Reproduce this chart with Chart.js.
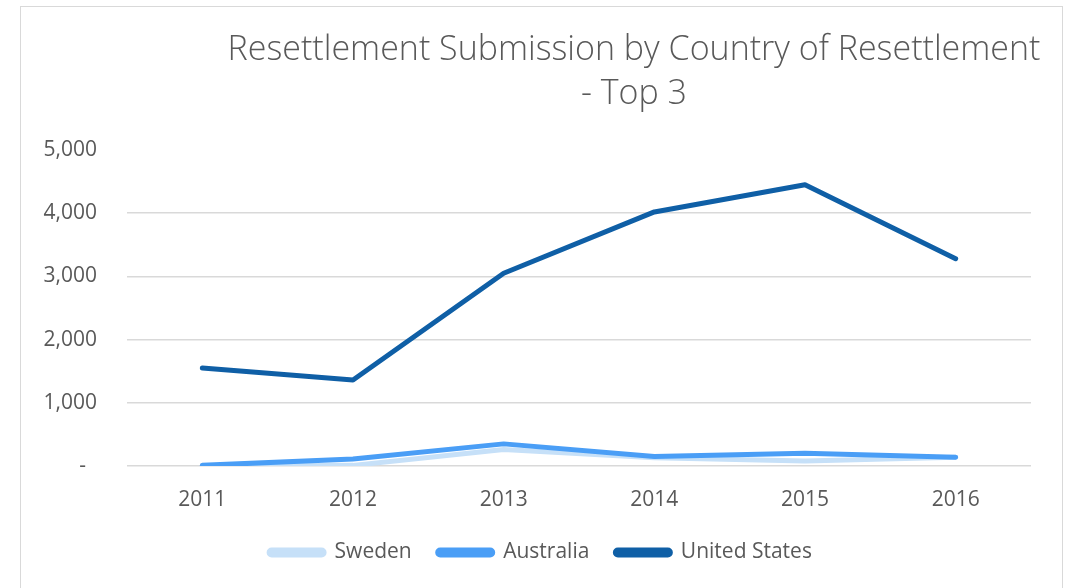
<!DOCTYPE html>
<html>
<head>
<meta charset="utf-8">
<script src="https://cdn.jsdelivr.net/npm/chart.js@4.4.0/dist/chart.umd.min.js"></script>
<style>
  html, body { margin: 0; padding: 0; background: #fff; }
  #wrap { position: relative; width: 1081px; height: 588px; overflow: hidden; }
  #frame { position: absolute; left: 20px; top: 6px; width: 1041px; height: 640px; border: 1px solid #d9d9d9; }
  #chartBox { position: absolute; left: 0; top: 0; width: 1081px; height: 588px; }
</style>
</head>
<body>
<div id="wrap">
  <div id="frame"></div>
  <div id="chartBox"><canvas id="resettlementChart"></canvas></div>
</div>
<script>
var years = ['2011', '2012', '2013', '2014', '2015', '2016'];
var unitedStates = [1550, 1360, 3050, 4020, 4450, 3280];
var australia = [10, 110, 350, 150, 200, 140];
var sweden = [0, 10, 260, 130, 80, 140];
var yTicks = [0, 1000, 2000, 3000, 4000, 5000];
var titleLines = ['Resettlement Submission by Country of Resettlement', '- Top 3'];

var fontFamily = "'Open Sans', 'Noto Sans', sans-serif";
var textColor = '#595959';

// title drawn off-centre like the original workbook chart
var titlePlugin = {
    id: 'offsetTitle',
    afterDraw: function(chart) {
        var c = chart.ctx;
        c.save();
        c.fillStyle = textColor;
        c.font = "300 34px " + fontFamily;
        c.textAlign = 'center';
        c.textBaseline = 'alphabetic';
        c.fillText(titleLines[0], 634, 60);
        c.fillText(titleLines[1], 634, 104);
        c.restore();
    }
};

var ctx = document.getElementById('resettlementChart').getContext('2d');

var chart = new Chart(ctx, {
    type: 'line',
    data: {
        labels: years,
        datasets: [{
            label: 'United States',
            data: unitedStates,
            borderColor: '#0f5fa6',
            backgroundColor: '#0f5fa6'
        }, {
            label: 'Australia',
            data: australia,
            borderColor: '#4a9ef6',
            backgroundColor: '#4a9ef6'
        }, {
            label: 'Sweden',
            data: sweden,
            borderColor: '#c6e0f8',
            backgroundColor: '#c6e0f8'
        }]
    },
    options: {
        responsive: true,
        maintainAspectRatio: false,
        animation: false,
        layout: {
            padding: { top: 150, left: 0, right: 0, bottom: 15 }
        },
        elements: {
            line: { borderWidth: 5, tension: 0, borderCapStyle: 'round', borderJoinStyle: 'round' },
            point: { radius: 0, hoverRadius: 0 }
        },
        scales: {
            x: {
                offset: true,
                grid: { display: false },
                border: { display: false },
                ticks: {
                    color: textColor,
                    font: { family: fontFamily, size: 21 },
                    padding: 13
                },
                afterFit: function(scale) { scale.height = 50; }
            },
            y: {
                min: 0,
                max: 5000,
                afterBuildTicks: function(scale) {
                    scale.ticks = yTicks.map(function(v) { return { value: v }; });
                },
                border: { display: false },
                grid: {
                    drawTicks: false,
                    lineWidth: 1.5,
                    color: function(c) {
                        return c.tick && c.tick.value === 5000 ? 'rgba(0,0,0,0)' : '#d9d9d9';
                    }
                },
                ticks: {
                    color: textColor,
                    font: { family: fontFamily, size: 21 },
                    padding: 30,
                    callback: function(value) {
                        if (value === 0) return '-  ';
                        return value.toLocaleString('en-US');
                    }
                },
                afterFit: function(scale) { scale.width = 127; }
            },
            // empty right-hand spacer so the legend stays centred on the whole canvas
            spacer: {
                type: 'linear',
                position: 'right',
                display: true,
                grid: { display: false },
                border: { display: false },
                ticks: { display: false },
                afterFit: function(scale) { scale.width = 50; }
            }
        },
        plugins: {
            title: { display: false },
            tooltip: { enabled: false },
            legend: {
                position: 'bottom',
                reverse: true,
                labels: {
                    color: textColor,
                    font: { family: fontFamily, size: 21 },
                    boxWidth: 55,
                    boxHeight: 5,
                    useBorderRadius: true,
                    borderRadius: 2.5,
                    padding: 26
                }
            }
        }
    },
    plugins: [titlePlugin]
});
</script>
</body>
</html>
